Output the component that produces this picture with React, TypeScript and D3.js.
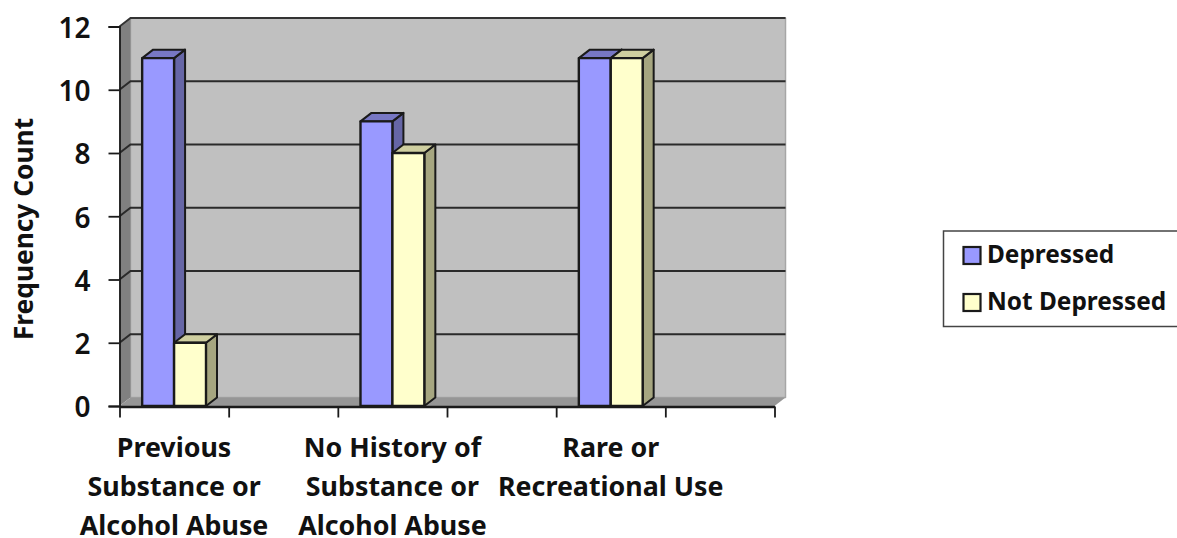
import { useEffect, useRef } from 'react';
import * as d3 from 'd3';

const categories = ['Previous', 'blank1', 'NoHistory', 'blank2', 'Rare', 'blank3'];
const depressed = [11, null, 9, null, 11, null];
const notDepressed = [2, null, 8, null, 11, null];
const yTicks = [0, 2, 4, 6, 8, 10, 12];
const categoryLabels: Record<string, string[]> = {
    Previous: ['Previous', 'Substance or', 'Alcohol Abuse'],
    NoHistory: ['No History of', 'Substance or', 'Alcohol Abuse'],
    Rare: ['Rare or', 'Recreational Use'],
};
const seriesNames = ['Depressed', 'Not Depressed'];

const FONT = '"Noto Sans", sans-serif';
const palette = [
    { front: '#9999ff', side: '#6666a6', top: '#7777c4' },
    { front: '#ffffcc', side: '#a6a680', top: '#cfcfa0' },
];

export default function App() {
    const svgRef = useRef<SVGSVGElement>(null);

    useEffect(() => {
        if (!svgRef.current) return;
        document.body.style.margin = '0';

        const svg = d3.select(svgRef.current);
        svg.selectAll('*').remove();

        // Depth of the fake 3D box
        const dx = 11;
        const dy = 8.5;

        const x = d3.scaleBand<string>().domain(categories).range([119.5, 774.5]);
        const y = d3.scaleLinear().domain([0, 12]).range([406, 26.5]);
        const inner = d3.scaleBand<string>()
            .domain(['0', '1'])
            .range([0, x.bandwidth()])
            .paddingInner(0)
            .paddingOuter(0.71);

        const x0 = x.range()[0];
        const x1 = x.range()[1];
        const y0 = y(0);
        const yTop = y(12);
        const dark = '#1a1a1a';

        const poly = (pts: [number, number][], fill: string, stroke = 'none', sw = 0) =>
            svg.append('polygon')
                .attr('points', pts.map(p => p.join(',')).join(' '))
                .attr('fill', fill)
                .attr('stroke', stroke)
                .attr('stroke-width', sw)
                .attr('stroke-linejoin', 'round');

        // Walls and floor
        poly([[x0 + dx, yTop - dy], [x1 + dx, yTop - dy], [x1 + dx, y0 - dy], [x0 + dx, y0 - dy]], '#c0c0c0', '#a6a6a6', 1.5);
        poly([[x0, yTop], [x0 + dx, yTop - dy], [x0 + dx, y0 - dy], [x0, y0]], '#808080');
        poly([[x0, y0], [x0 + dx, y0 - dy], [x1 + dx, y0 - dy], [x1, y0]], '#969696');

        svg.append('path')
            .attr('d', `M${x0},${yTop}L${x0 + dx},${yTop - dy}H${x1 + dx}`)
            .attr('fill', 'none')
            .attr('stroke', '#333')
            .attr('stroke-width', 1.8);

        // Grid lines running along the back wall
        svg.append('g')
            .selectAll('path')
            .data(yTicks.filter(t => t > 0 && t < 12))
            .join('path')
            .attr('d', t => `M${x0},${y(t)}L${x0 + dx},${y(t) - dy}H${x1 + dx}`)
            .attr('fill', 'none')
            .attr('stroke', '#2a2a2a')
            .attr('stroke-width', 2);

        // Bars
        [depressed, notDepressed].forEach((values, s) => {
            const colors = palette[s];
            categories.forEach((cat, i) => {
                const v = values[i];
                if (v == null) return;
                const left = (x(cat) || 0) + (inner(String(s)) || 0);
                const right = left + inner.bandwidth();
                const top = y(v);
                poly([[right, top], [right + dx, top - dy], [right + dx, y0 - dy], [right, y0]], colors.side, dark, 2);
                poly([[left, top], [left + dx, top - dy], [right + dx, top - dy], [right, top]], colors.top, dark, 2);
                poly([[left, top], [right, top], [right, y0], [left, y0]], colors.front, dark, 2.4);
            });
        });

        // Axes
        const yAxis = d3.axisLeft(y).tickValues(yTicks).tickSize(11).tickPadding(18);
        const gy = svg.append('g').attr('transform', `translate(${x0},0)`).call(yAxis);
        gy.selectAll('line').attr('stroke', dark).attr('stroke-width', 1.8);
        gy.select('.domain').attr('stroke', dark).attr('stroke-width', 1.8);
        gy.selectAll('text')
            .attr('fill', '#111')
            .attr('dy', '0.39em')
            .style('font-family', FONT)
            .style('font-weight', 600)
            .style('font-size', '28px');

        const tickPositions = [...categories.map(c => x(c) || 0), x1];
        const xAxis = d3.axisBottom(d3.scaleLinear().domain([x0, x1]).range([x0, x1]))
            .tickValues(tickPositions)
            .tickSize(11)
            .tickSizeOuter(0)
            .tickFormat(() => '');
        const gx = svg.append('g').attr('transform', `translate(0,${y0 + 0.5})`).call(xAxis);
        gx.selectAll('line').attr('stroke', dark).attr('stroke-width', 1.8);
        gx.select('.domain').attr('stroke', dark).attr('stroke-width', 2.4);

        // Category labels
        categories.forEach(cat => {
            const lines = categoryLabels[cat];
            if (!lines) return;
            const cx = (x(cat) || 0) + x.bandwidth() / 2;
            svg.append('g')
                .selectAll('text')
                .data(lines)
                .join('text')
                .attr('x', cx)
                .attr('y', (_, i) => 457 + i * 39)
                .attr('text-anchor', 'middle')
                .attr('fill', '#111')
                .style('font-family', FONT)
                .style('font-weight', 700)
                .style('font-size', '26.8px')
                .text(d => d);
        });

        // Axis title
        svg.append('text')
            .attr('transform', 'translate(33,229) rotate(-90)')
            .attr('text-anchor', 'middle')
            .attr('fill', '#111')
            .style('font-family', FONT)
            .style('font-weight', 700)
            .style('font-size', '26.3px')
            .text('Frequency Count');

        // Legend
        svg.append('rect')
            .attr('x', 943.5)
            .attr('y', 231)
            .attr('width', 250)
            .attr('height', 95.5)
            .attr('fill', '#fff')
            .attr('stroke', '#444')
            .attr('stroke-width', 1.5);

        const legendY = d3.scalePoint<string>().domain(seriesNames).range([255, 302]);
        seriesNames.forEach((name, s) => {
            const ly = legendY(name) || 0;
            svg.append('rect')
                .attr('x', 963.5)
                .attr('y', ly - 8)
                .attr('width', 17)
                .attr('height', 17)
                .attr('fill', palette[s].front)
                .attr('stroke', dark)
                .attr('stroke-width', 2.2);
            svg.append('text')
                .attr('x', 987)
                .attr('y', ly + 8)
                .attr('fill', '#111')
                .style('font-family', FONT)
                .style('font-weight', 700)
                .style('font-size', '24.4px')
                .text(name);
        });
    }, []);

    return <svg ref={svgRef} width={1177} height={538} style={{ display: 'block' }} />;
}
